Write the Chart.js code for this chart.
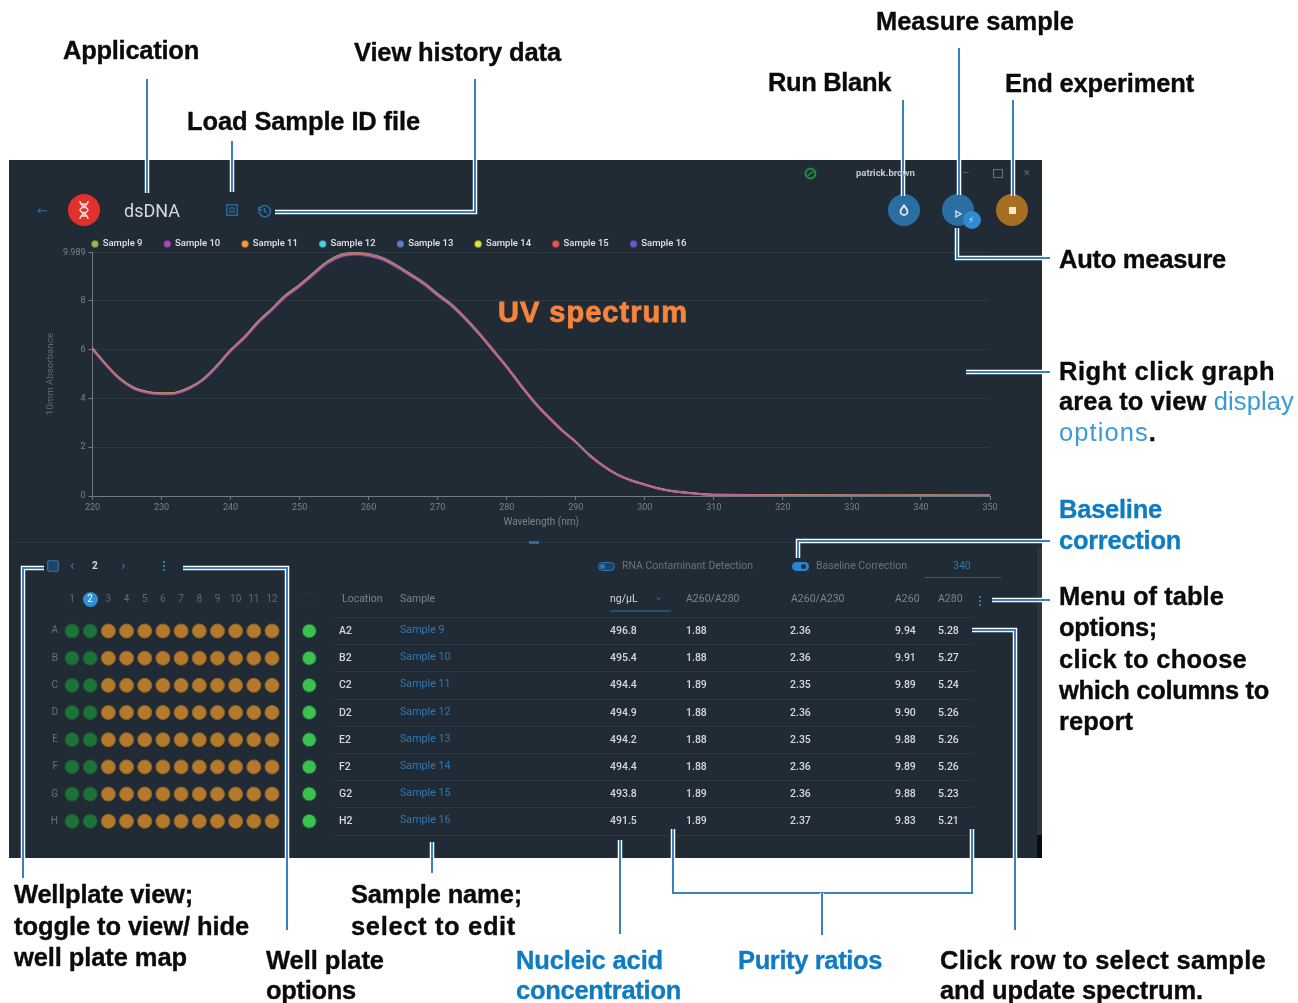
<!DOCTYPE html>
<html>
<head>
<meta charset="utf-8">
<title>dsDNA</title>
<script src="https://cdn.jsdelivr.net/npm/chart.js@4"></script>
<style>
html, body { margin: 0; padding: 0; background: #fff; }
#page { position: relative; width: 1298px; height: 1003px; overflow: hidden; }
#panel { position: absolute; left: 9px; top: 160px; width: 1033px; height: 698px; background: #202b35; }
.t { position: absolute; white-space: nowrap; line-height: 1; transform: translateY(-50%); font-family: Roboto, sans-serif; }
.note { font-family: "Liberation Sans", sans-serif; font-weight: 700; font-size: 25.5px; color: #0b0b0b; -webkit-text-stroke: 0.35px currentColor; }
.blue { color: #0f7cc2; }
.thin { font-weight: 400; color: #3a9ad8; -webkit-text-stroke: 0; }
.box { position: absolute; }
canvas { position: absolute; display: block; }
svg { position: absolute; left: 0; top: 0; }
</style>
</head>
<body>
<div id="page">
  <div id="panel"></div>
  <canvas id="spectrum" width="990" height="322"></canvas>
  <canvas id="wells" width="314" height="270"></canvas>
  <svg id="lines" width="1298" height="1003"></svg>
</div>
<script>
const wavelengths = [220,222,224,226,228,230,232,234,236,238,240,242,244,246,248,250,252,254,256,258,260,262,264,266,268,270,272,274,276,278,280,282,284,286,288,290,292,294,296,298,300,302,304,306,308,310,320,330,340,350]
const sampleNames = ['Sample 9','Sample 10','Sample 11','Sample 12','Sample 13','Sample 14','Sample 15','Sample 16']
const sampleColors = ['#8bc34a','#ab47bc','#ff9a3c','#4dd0e1','#5c7fc9','#e6e635','#ef5350','#6a5acd']
const sample9 = [6.05,5.39,4.82,4.44,4.27,4.22,4.24,4.44,4.79,5.34,5.99,6.52,7.16,7.68,8.24,8.66,9.14,9.61,9.90,9.98,9.92,9.77,9.47,9.12,8.75,8.29,7.86,7.31,6.69,6.01,5.32,4.57,3.87,3.26,2.71,2.23,1.68,1.24,0.89,0.65,0.48,0.31,0.21,0.15,0.09,0.06,0.03,0.02,0.02,0.02]
const sample10 = [6.02,5.36,4.79,4.41,4.24,4.19,4.21,4.41,4.76,5.31,5.96,6.49,7.12,7.65,8.20,8.62,9.10,9.57,9.87,9.95,9.89,9.74,9.44,9.09,8.72,8.26,7.83,7.28,6.66,5.99,5.30,4.55,3.85,3.25,2.70,2.22,1.67,1.23,0.88,0.64,0.47,0.30,0.20,0.14,0.08,0.05,0.02,0.02,0.01,0.02]
const sample11 = [6.04,5.38,4.80,4.42,4.26,4.20,4.23,4.42,4.77,5.32,5.97,6.50,7.13,7.66,8.21,8.63,9.11,9.58,9.86,9.94,9.88,9.73,9.43,9.08,8.71,8.25,7.82,7.27,6.65,5.97,5.29,4.54,3.84,3.24,2.69,2.21,1.67,1.23,0.88,0.64,0.47,0.30,0.20,0.14,0.09,0.05,0.03,0.02,0.02,0.01]
const sample12 = [6.03,5.37,4.80,4.43,4.25,4.20,4.22,4.42,4.78,5.33,5.97,6.50,7.14,7.66,8.22,8.64,9.12,9.58,9.87,9.95,9.90,9.74,9.45,9.10,8.73,8.27,7.84,7.29,6.67,5.99,5.30,4.55,3.85,3.25,2.70,2.22,1.67,1.23,0.88,0.64,0.47,0.31,0.20,0.14,0.08,0.05,0.03,0.02,0.01,0.02]
const sample13 = [6.01,5.35,4.78,4.40,4.24,4.18,4.21,4.40,4.75,5.30,5.95,6.48,7.11,7.64,8.19,8.61,9.09,9.56,9.85,9.93,9.87,9.72,9.42,9.07,8.70,8.24,7.81,7.26,6.64,5.97,5.28,4.54,3.84,3.24,2.69,2.21,1.66,1.22,0.87,0.63,0.46,0.30,0.19,0.13,0.08,0.05,0.02,0.01,0.02,0.01]
const sample14 = [6.04,5.37,4.81,4.43,4.26,4.21,4.23,4.43,4.78,5.33,5.98,6.51,7.15,7.67,8.23,8.65,9.13,9.59,9.88,9.96,9.89,9.74,9.44,9.09,8.72,8.26,7.83,7.28,6.66,5.98,5.30,4.56,3.86,3.25,2.70,2.22,1.67,1.23,0.88,0.64,0.47,0.31,0.20,0.14,0.08,0.06,0.03,0.02,0.02,0.02]
const sample15 = [6.02,5.36,4.78,4.41,4.24,4.19,4.22,4.41,4.76,5.30,5.95,6.48,7.12,7.64,8.19,8.61,9.09,9.56,9.84,9.92,9.87,9.71,9.42,9.07,8.70,8.24,7.81,7.26,6.64,5.97,5.28,4.53,3.84,3.23,2.68,2.21,1.66,1.22,0.87,0.63,0.46,0.29,0.19,0.13,0.08,0.05,0.02,0.02,0.01,0.01]
const sample16 = [6.00,5.34,4.76,4.39,4.22,4.17,4.19,4.39,4.74,5.28,5.92,6.45,7.08,7.60,8.15,8.57,9.05,9.51,9.80,9.88,9.82,9.67,9.38,9.03,8.66,8.20,7.78,7.23,6.61,5.94,5.26,4.51,3.82,3.22,2.67,2.20,1.65,1.22,0.87,0.63,0.46,0.30,0.19,0.13,0.08,0.05,0.02,0.01,0.01,0.02]
const sampleSeries = [sample9,sample10,sample11,sample12,sample13,sample14,sample15,sample16]
const yTicks = [0,2,4,6,8,9.989]
const xTicks = [220,230,240,250,260,270,280,290,300,310,320,330,340,350]

const plateRows = ['A','B','C','D','E','F','G','H']
const plateCols = ['1','2','3','4','5','6','7','8','9','10','11','12']
const doneCols = [1,2]
const pendingCols = [3,4,5,6,7,8,9,10,11,12]
const statusCol = [14.05]

const tableHeads = ['Location','Sample','ng/µL','A260/A280','A260/A230','A260','A280']
const locations = ['A2','B2','C2','D2','E2','F2','G2','H2']
const concentrations = ['496.8','495.4','494.4','494.9','494.2','494.4','493.8','491.5']
const ratio280 = ['1.88','1.88','1.89','1.88','1.88','1.88','1.89','1.89']
const ratio230 = ['2.36','2.36','2.35','2.36','2.35','2.36','2.36','2.37']
const a260 = ['9.94','9.91','9.89','9.90','9.88','9.89','9.88','9.83']
const a280 = ['5.28','5.27','5.24','5.26','5.26','5.26','5.23','5.21']

const page = document.querySelector('#page')

function text(str, x, y, css, cls) {
    const el = document.createElement('div')
    el.className = 't ' + (cls || '')
    el.style.left = x + 'px'
    el.style.top = y + 'px'
    if (css) el.style.cssText += css
    el.innerHTML = str
    page.appendChild(el)
    return el
}

// letter spacing so a line ends where it ends in the picture
function fitTo(el, right) {
    const w = el.getBoundingClientRect().width
    const left = parseFloat(el.style.left)
    el.style.letterSpacing = ((right - left - w) / el.textContent.length).toFixed(3) + 'px'
}

function box(x, y, w, h, css) {
    const el = document.createElement('div')
    el.className = 'box'
    el.style.cssText = `left:${x}px;top:${y}px;width:${w}px;height:${h}px;` + (css || '')
    page.insertBefore(el, document.querySelector('#spectrum'))
    return el
}

function icon(svg, x, y, size) {
    const el = document.createElement('div')
    el.className = 'box'
    el.style.cssText = `left:${x - size / 2}px;top:${y - size / 2}px;width:${size}px;height:${size}px;`
    el.innerHTML = `<svg viewBox="0 0 24 24" width="${size}" height="${size}" style="position:static">${svg}</svg>`
    page.insertBefore(el, document.querySelector('#spectrum'))
}

// app bar
text('←', 37, 210, 'font-size:13px;color:#2a6d9e;font-family:DejaVu Sans')
box(68, 194, 32, 32, 'border-radius:50%;background:#e0312f')
icon('<path d="M8 3c0 6 8 6 8 9s-8 3-8 9M16 3c0 6-8 6-8 9s8 3 8 9M8.5 6h7M8.5 18h7M9 9.5h6M9 14.5h6" fill="none" stroke="#f7d8d2" stroke-width="1.5"/>', 84, 210, 24)
text('dsDNA', 124, 211, 'font-size:18px;color:#d4d9dd')
icon('<rect x="3" y="3" width="18" height="18" fill="none" stroke="#2a6d9e" stroke-width="2.4"/><rect x="8.5" y="8.5" width="7" height="7" fill="none" stroke="#2a6d9e" stroke-width="2"/>', 232, 210, 14)
icon('<path d="M5 8a9 9 0 1 1-1.5 5M3 6v5h5M12 8v5l4 2" fill="none" stroke="#2a6d9e" stroke-width="2.6"/>', 264, 210, 15)
icon('<circle cx="12" cy="12" r="9" fill="none" stroke="#1e8a40" stroke-width="4"/><path d="M7 16 17 8" stroke="#1e8a40" stroke-width="3"/>', 810, 172, 13)
text('patrick.brown', 856, 173, 'font-size:9.5px;font-weight:700;color:#c4cace')
text('—', 962, 173, 'font-size:9px;color:#66717b')
box(993, 169, 8, 7, 'border:1.5px solid #66717b')
text('✕', 1023, 173, 'font-size:9px;color:#66717b;font-family:DejaVu Sans')
box(888, 194, 32, 32, 'border-radius:50%;background:#2b6ea3')
icon('<path d="M12 4c4 5 6 7.5 6 10.5a6 6 0 0 1-12 0C6 11.500 8 9 12 4z" fill="none" stroke="#e4eef5" stroke-width="3"/>', 904, 210, 14)
box(942, 194, 32, 32, 'border-radius:50%;background:#2b6ea3')
icon('<path d="M7 5 19 12 7 19z" fill="none" stroke="#dce9f2" stroke-width="3"/>', 958, 210, 10)
box(963, 211, 18, 18, 'border-radius:50%;background:#2f8ad0')
text('⚡', 968, 220, 'font-size:9px;color:#cfe5f5;font-family:DejaVu Sans')
box(996, 194, 32, 32, 'border-radius:50%;background:#a66f22')
box(1009, 207, 7, 7, 'background:#f3e4cc')

// divider + scrollbar
box(10, 542, 1030, 1, 'background:#2b3742')
box(529, 541, 10, 3, 'background:#2a6d9e')
box(1037, 548, 5, 287, 'background:#2a3641')
box(1037, 835, 5, 23, 'background:#0b0e11')

// well plate toolbar
icon('<rect x="3" y="3" width="18" height="18" rx="2" fill="#21425e" stroke="#2f78b0" stroke-width="2"/>', 53, 566, 14)
text('‹', 70, 565, 'font-size:15px;color:#2f78b0')
text('2', 92, 566, 'font-size:10px;font-weight:700;color:#d4d9dd')
text('›', 121, 565, 'font-size:15px;color:#2f78b0')
box(163, 561, 2, 2, 'background:#2f78b0')
box(163, 565, 2, 2, 'background:#2f78b0')
box(163, 569, 2, 2, 'background:#2f78b0')
box(83, 591.500, 15, 15, 'border-radius:50%;background:#2f8fd6')
box(302, 592, 14, 14, 'border-radius:50%;border:1px solid #27333e;box-sizing:border-box')

// toggles
box(598, 562, 17, 9, 'border-radius:5px;border:1.5px solid #2a78b5;box-sizing:border-box;background:#1d4563')
box(600, 564, 5, 5, 'border-radius:50%;background:#2a78b5')
text('RNA Contaminant Detection', 622, 566, 'font-size:10.5px;color:#69747e')
box(792, 562, 17, 9, 'border-radius:5px;background:#2a85cc')
box(801, 564, 5, 5, 'border-radius:50%;background:#20303e')
text('Baseline Correction', 816, 566, 'font-size:10.5px;color:#69747e')
text('340', 953, 566, 'font-size:10.5px;color:#2f78b0')
box(925, 577, 76, 1, 'background:#2a5f8a')

// results table
const columnX = [342, 400, 610, 686, 791, 895, 938]
const headColors = ['#7b858f','#7b858f','#d4d9dd','#7b858f','#7b858f','#7b858f','#7b858f']
tableHeads.forEach((h, i) => {
    text(h, columnX[i], 599, `font-size:10.5px;color:${headColors[i]}`)
})
box(610, 610, 61, 2, 'background:#2a4d6b')
text('⌄', 654, 596, 'font-size:11px;color:#2a6d9e;font-family:DejaVu Sans')
box(979, 596, 2, 2, 'background:#2f78b0')
box(979, 600, 2, 2, 'background:#2f78b0')
box(979, 604, 2, 2, 'background:#2f78b0')
box(333, 617, 640, 1, 'background:#2b3742')
locations.forEach((loc, i) => {
    const y = 631 + 27.2 * i
    text(loc, 339, y, 'font-size:10.5px;font-weight:500;color:#d4d9dd')
    text(sampleNames[i], 400, y - 1, 'font-size:10.7px;color:#2c7ab8')
    text(concentrations[i], 610, y, 'font-size:10.5px;font-weight:500;color:#d4d9dd')
    text(ratio280[i], 686, y, 'font-size:10.5px;font-weight:500;color:#d4d9dd')
    text(ratio230[i], 790, y, 'font-size:10.5px;font-weight:500;color:#d4d9dd')
    text(a260[i], 895, y, 'font-size:10.5px;font-weight:500;color:#d4d9dd')
    text(a280[i], 938, y, 'font-size:10.5px;font-weight:500;color:#d4d9dd')
    box(333, y + 13.2, 640, 1, 'background:#2b3742')
})

Chart.defaults.font.family = 'Roboto'
Chart.defaults.font.size = 9
Chart.defaults.color = '#79838d'

// legend sits left aligned over the plot instead of centred in the canvas
const moveLegend = {
    id: 'moveLegend',
    afterLayout(chart) {
        chart.legend.left = 82 - chart.options.plugins.legend.labels.padding
        chart.legend.top += 6.5
    }
}

const specCanvas = document.querySelector('#spectrum')
specCanvas.style.left = '10px'
specCanvas.style.top = '211px'
new Chart(specCanvas, {
    type: 'line',
    data: {
        datasets: sampleSeries.map((vals, i) => ({
            label: sampleNames[i],
            data: vals.map((v, k) => ({ x: wavelengths[k], y: v })),
            borderColor: sampleColors[i] + 'a8',
            backgroundColor: sampleColors[i],
            borderWidth: 1.8,
            pointRadius: 0,
            tension: 0.35,
            order: [3, 0, 1, 6, 4, 7, 2, 5][i],
        }))
    },
    plugins: [moveLegend],
    options: {
        responsive: false,
        animation: false,
        layout: { padding: { right: 10 }, autoPadding: false },
        plugins: {
            tooltip: { enabled: false },
            legend: {
                align: 'start',
                labels: {
                    usePointStyle: true, pointStyle: 'circle', boxWidth: 6, boxHeight: 4, padding: 21.8,
                    color: '#dfe4e7', font: { size: 9.5, weight: '500' },
                    sort: (a, b) => a.datasetIndex - b.datasetIndex,
                },
            },
        },
        scales: {
            x: {
                type: 'linear',
                min: 220,
                max: 350,
                afterBuildTicks: s => { s.ticks = xTicks.map(v => ({ value: v })) },
                afterFit: s => { s.height = 37 },
                grid: { drawOnChartArea: false, color: '#6f7a84', tickLength: 4 },
                border: { color: '#6f7a84' },
                ticks: { maxRotation: 0, padding: 2, autoSkip: false, color: '#79838d' },
                title: { display: true, text: 'Wavelength (nm)', color: '#79838d', font: { size: 10 }, padding: { top: 0, bottom: 5 } },
            },
            y: {
                min: 0,
                max: 9.989,
                afterBuildTicks: s => { s.ticks = yTicks.map(v => ({ value: v })) },
                afterFit: s => { s.width = 82.5 },
                grid: { color: 'rgba(255,255,255,0.06)', tickColor: '#6f7a84', tickLength: 4 },
                border: { color: '#6f7a84' },
                ticks: { padding: 3, autoSkip: false, color: '#79838d', callback: v => String(v) },
                title: { display: true, text: '10mm Absorbance', color: '#5f6a74', font: { size: 9.7 }, padding: { top: 35, bottom: 0 } },
            },
        },
    },
})

const wellCanvas = document.querySelector('#wells')
wellCanvas.style.left = '10px'
wellCanvas.style.top = '580px'

function wellPoints(cols) {
    const pts = []
    cols.forEach(c => plateRows.forEach((r, k) => pts.push({ x: c, y: k + 1 })))
    return pts
}

new Chart(wellCanvas, {
    type: 'scatter',
    data: {
        datasets: [
            { data: wellPoints(doneCols), backgroundColor: '#1d7238', borderColor: '#1b5a33', borderWidth: 1, pointRadius: 7 },
            { data: wellPoints(pendingCols), backgroundColor: '#b5792b', borderColor: '#8f6429', borderWidth: 1, pointRadius: 7 },
            { data: wellPoints(statusCol), backgroundColor: '#3cc04f', borderColor: '#1d5a35', borderWidth: 1, pointRadius: 7 },
        ]
    },
    options: {
        responsive: false,
        animation: false,
        layout: { autoPadding: false },
        plugins: { legend: { display: false }, tooltip: { enabled: false } },
        scales: {
            x: {
                type: 'linear',
                position: 'top',
                min: 0.45,
                max: 14.86,
                afterBuildTicks: s => { s.ticks = plateCols.map((c, k) => ({ value: k + 1 })) },
                afterFit: s => { s.height = 30 },
                grid: { display: false, tickLength: 0 },
                border: { display: false },
                ticks: {
                    autoSkip: false, maxRotation: 0, padding: 5,
                    font: { size: 10 },
                    color: c => c.index === 1 ? '#ffffff' : '#5f6a74',
                    callback: v => plateCols[v - 1],
                },
            },
            y: {
                reverse: true,
                min: 0.228,
                max: 8.69,
                afterBuildTicks: s => { s.ticks = plateRows.map((r, k) => ({ value: k + 1 })) },
                afterFit: s => { s.width = 52 },
                grid: { display: false, tickLength: 0 },
                border: { display: false },
                ticks: {
                    autoSkip: false, padding: 4,
                    font: { size: 10 },
                    color: '#66717b',
                    callback: v => plateRows[v - 1],
                },
            },
        },
    },
})

// callout lines
const callouts = [
    '147,79 147,193', '232,141 232,192', '475,79 475,212 275,212',
    '903,100 903,196', '959,48 959,195', '1013,100 1013,196',
    '957,228 957,258 1050,258', '966,372 1050,372', '798,558 798,541 1050,541',
    '992,600 1050,600', '972,630 1015,630 1015,930', '44,568 23,568 23,878',
    '183,568 287,568 287,930', '432,842 432,873', '620,840 620,934',
    '673,829 673,893 972,893 972,829', '822,893 822,935',
]
document.querySelector('#lines').innerHTML = callouts.map(p =>
    `<polyline points="${p}" fill="none" stroke="#fff" stroke-width="4.5"/><polyline points="${p}" fill="none" stroke="#3a80c2" stroke-width="2"/>`
).join('')

// annotation text: line, left, middle, right end
const notes = [
    ['Application', 63, 51, 199], ['View history data', 354, 53, 561], ['Load Sample ID file', 187, 122, 420],
    ['Measure sample', 876, 22, 1074], ['Run Blank', 768, 83, 891], ['End experiment', 1005, 84, 1194],
    ['Auto measure', 1059, 260, 1226], ['Right click graph', 1059, 372, 1275],
    ['area to view <span class="thin">display</span>', 1059, 402, 1294], ['<span class="thin">options</span>.', 1059, 433, 1157],
    ['Menu of table', 1059, 597, 1224], ['options;', 1059, 628, 1157], ['click to choose', 1059, 660, 1247],
    ['which columns to', 1059, 691, 1269], ['report', 1059, 722, 1133],
    ['Wellplate view;', 14, 895, 193], ['toggle to view/ hide', 14, 927, 249], ['well plate map', 14, 958, 187],
    ['Sample name;', 351, 895, 522], ['select to edit', 351, 927, 516],
    ['Well plate', 266, 961, 384], ['options', 266, 991, 356],
    ['Click row to select sample', 940, 961, 1266], ['and update spectrum.', 940, 991, 1203],
]
const blueNotes = [
    ['Baseline', 1059, 510, 1162], ['correction', 1059, 541, 1181], ['Nucleic acid', 516, 961, 663],
    ['concentration', 516, 991, 681], ['Purity ratios', 738, 961, 882],
]
notes.forEach(n => fitTo(text(n[0], n[1], n[2], '', 'note'), n[3]))
blueNotes.forEach(n => fitTo(text(n[0], n[1], n[2], '', 'note blue'), n[3]))
fitTo(text('UV spectrum', 498, 312, 'font-family:Liberation Sans;font-weight:700;font-size:29px;color:#f5843c;-webkit-text-stroke:0.8px #f5843c'), 688)
</script>
</body>
</html>
